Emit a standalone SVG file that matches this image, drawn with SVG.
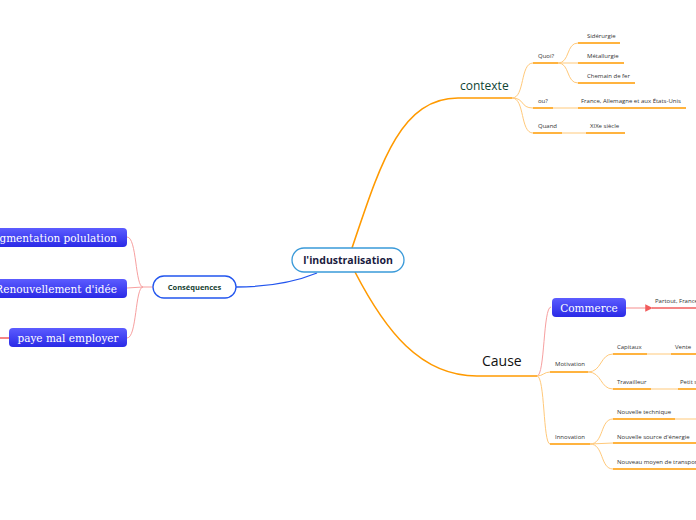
<svg xmlns="http://www.w3.org/2000/svg" width="696" height="520" viewBox="0 0 696 520">
<defs>
<linearGradient id="bg" x1="0" y1="0" x2="0" y2="1">
<stop offset="0" stop-color="#5c5cff"/>
<stop offset="1" stop-color="#2a2ae6"/>
</linearGradient>
<marker id="arr" viewBox="0 0 10 10" refX="1" refY="5" markerWidth="5" markerHeight="5" orient="auto">
<path d="M10,0 L0,5 L10,10 z" fill="#f25c5c"/>
</marker>
<style>
.t{font-family:"Open Sans","Noto Sans",sans-serif;font-size:6px;fill:#333}
.ul{stroke:#ff9a00;stroke-width:1.6;fill:none}
.lc{stroke:#ffc97a;stroke-width:1;fill:none}
.pk{stroke:#f7a0a0;stroke-width:1;fill:none}
.bn{fill:url(#bg)}
.bt{font-family:"DejaVu Serif","Liberation Serif",serif;font-size:10.5px;fill:#fff}
</style>
</defs>
<rect width="696" height="520" fill="#fff"/>
<g id="connectors">
<path d="M352,248 C380,165 400,98 458,98" stroke="#ff9a00" stroke-width="1.6" fill="none"/>
<path d="M355,272 C385,330 420,376 477,376" stroke="#ff9a00" stroke-width="1.6" fill="none"/>
<path d="M317,273 C290,284 262,287 236,287" stroke="#2255ee" stroke-width="1.3" fill="none"/>
<path class="ul" d="M458,98 L512,98"/>
<path class="lc" d="M512,98 C525,98 520,63 533,63 M512,98 C525,98 520,108 533,108 M512,98 C525,98 520,133 533,133"/>
<path class="lc" d="M558,63 C570,63 566,43 578,43 M558,63 L578,63 M558,63 C570,63 566,83 578,83"/>
<path class="lc" d="M553,108 L578,108 M562,133 L586,133"/>
<path class="ul" d="M533,63 L558,63 M578,43 L620,43 M578,63 L624,63 M578,83 L635,83 M533,108 L553,108 M578,108 L686,108 M533,133 L562,133 M586,133 L625,133"/>
<path class="ul" d="M477,376 L537,376"/>
<path class="pk" d="M537,376 C545,376 543,307 551,307"/>
<path class="lc" d="M537,376 C543,376 544,372 550,372 M537,376 C545,376 543,444 550,444"/>
<path class="ul" d="M550,372 L588,372 M550,444 L590,444"/>
<path class="lc" d="M588,372 C602,372 600,354 613,354 M588,372 C602,372 600,389 613,389"/>
<path class="lc" d="M590,444 C604,444 600,419 613,419 M590,444 L613,443 M590,444 C604,444 600,469 613,469"/>
<path class="lc" d="M647,354 L671,354 M651,389 L678,389 M675,419 L696,419"/>
<path class="ul" d="M613,354 L647,354 M671,354 L696,354 M613,389 L651,389 M678,389 L696,389 M613,419 L675,419 M613,443 L696,443 M613,469 L696,469"/>
<path d="M626,308 L650,308" stroke="#f7a0a0" stroke-width="1.2" fill="none"/>
<path d="M696,308 L652,308" stroke="#f25c5c" stroke-width="1.5" fill="none" marker-end="url(#arr)"/>
<path class="pk" d="M153,287 L143,287 M143,287 C135,287 137,237 127,237 M143,287 L127,288 M143,287 C135,287 137,338 127,338"/>
<path d="M0,338 L9,338" stroke="#f25c5c" stroke-width="1.5" fill="none"/>
</g>
<g id="central">
<rect x="292" y="248" width="112" height="24" rx="12" fill="#fff" stroke="#3a9ad9" stroke-width="1.3"/>
<text x="348" y="264" text-anchor="middle" font-family="Open Sans,Noto Sans,sans-serif" font-size="10.5" font-weight="bold" fill="#1a1a40">l'industralisation</text>
</g>
<g id="contexte">
<text x="460" y="90" font-family="Open Sans,Noto Sans,sans-serif" font-size="12" fill="#0f4434">contexte</text>
</g>
<g id="quoi"><text class="t" x="538" y="58">Quoi?</text></g>
<g id="siderurgie"><text class="t" x="587" y="38">Sidérurgie</text></g>
<g id="metallurgie"><text class="t" x="587" y="58">Métallurgie</text></g>
<g id="chemain"><text class="t" x="587" y="78">Chemain de fer</text></g>
<g id="ou"><text class="t" x="538" y="103">ou?</text></g>
<g id="france"><text class="t" x="581" y="103">France, Allemagne et aux États-Unis</text></g>
<g id="quand"><text class="t" x="538" y="128">Quand</text></g>
<g id="xix"><text class="t" x="590" y="128">XIXe siècle</text></g>
<g id="cause">
<text x="482" y="366" font-family="Open Sans,Noto Sans,sans-serif" font-size="14" fill="#111">Cause</text>
</g>
<g id="commerce">
<rect class="bn" x="552" y="298" width="74" height="19" rx="4"/>
<text class="bt" x="589" y="312" text-anchor="middle" font-size="12">Commerce</text>
</g>
<g id="partout"><text class="t" x="655" y="303">Partout, France</text></g>
<g id="motivation"><text class="t" x="555" y="366">Motivation</text></g>
<g id="capitaux"><text class="t" x="617" y="349">Capitaux</text></g>
<g id="vente"><text class="t" x="675" y="349">Vente</text></g>
<g id="travailleur"><text class="t" x="617" y="384">Travailleur</text></g>
<g id="petit"><text class="t" x="680" y="384">Petit s</text></g>
<g id="innovation"><text class="t" x="555" y="439">Innovation</text></g>
<g id="technique"><text class="t" x="617" y="414">Nouvelle technique</text></g>
<g id="source"><text class="t" x="617" y="439">Nouvelle source d'énergie</text></g>
<g id="transport"><text class="t" x="617" y="464">Nouveau moyen de transport</text></g>
<g id="consequences">
<rect x="153" y="276" width="83" height="22" rx="11" fill="#fff" stroke="#2255ee" stroke-width="1.3"/>
<text x="194.5" y="290" text-anchor="middle" font-family="Open Sans,Noto Sans,sans-serif" font-size="7.5" font-weight="bold" fill="#173f33">Conséquences</text>
</g>
<g id="augmentation">
<rect class="bn" x="-20" y="228" width="147" height="19" rx="4"/>
<text class="bt" x="117" y="241.5" text-anchor="end">Augmentation polulation</text>
</g>
<g id="renouvellement">
<rect class="bn" x="-20" y="279" width="147" height="19" rx="4"/>
<text class="bt" x="117" y="292.5" text-anchor="end">Renouvellement d'idée</text>
</g>
<g id="paye">
<rect class="bn" x="9" y="328" width="118" height="19" rx="4"/>
<text class="bt" x="68" y="341.5" text-anchor="middle">paye mal employer</text>
</g>
</svg>
